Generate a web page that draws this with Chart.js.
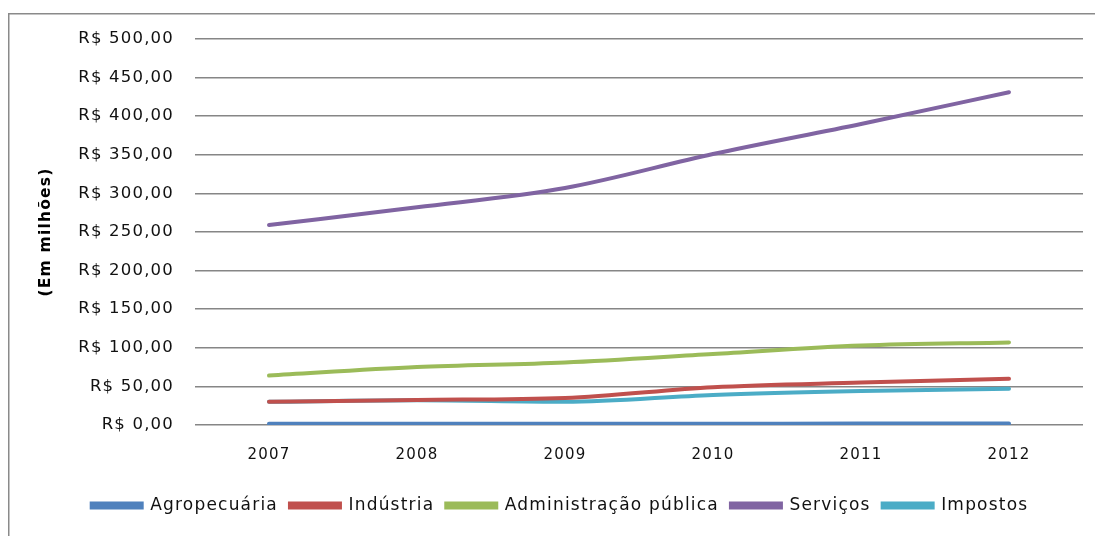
<!DOCTYPE html>
<html>
<head>
<meta charset="utf-8">
<script src="https://cdn.jsdelivr.net/npm/chart.js@4"></script>
<style>
  html, body { margin: 0; padding: 0; background: #fff; overflow: hidden; }
  canvas { position: absolute; left: 0; top: 0; }
</style>
</head>
<body>
<canvas id="c" width="1095" height="536"></canvas>
<script>
const years = ['2007', '2008', '2009', '2010', '2011', '2012'];
const agropecuaria = [1.5, 1.6, 1.5, 1.7, 1.8, 1.9];
const industria = [30, 32.5, 35, 49, 55, 60];
const administracao = [64, 75, 81, 92, 103, 107];
const servicos = [259, 282, 307, 351, 390, 431];
const impostos = [30, 32, 30, 39, 44, 47];
const seriesNames = ['Agropecuária', 'Indústria', 'Administração pública', 'Serviços', 'Impostos'];
const yTicks = [0, 50, 100, 150, 200, 250, 300, 350, 400, 450, 500];

const colors = ['#4F81BD', '#C0504D', '#9BBB59', '#8064A2', '#4BACC6'];
const values = [agropecuaria, industria, administracao, servicos, impostos];

const fontFam = "'DejaVu Sans', sans-serif";

const datasets = seriesNames.map((name, i) => ({
  label: name,
  data: values[i],
  borderColor: colors[i],
  backgroundColor: colors[i],
  borderWidth: 4,
  pointRadius: 0,
  cubicInterpolationMode: 'monotone',
  borderCapStyle: 'round'
}));

function fmt(v) {
  return 'R$ ' + v.toFixed(2).replace('.', ',');
}

const spacingPlugin = {
  id: 'spacing',
  beforeLayout(chart) { chart.ctx.letterSpacing = '1.2px'; },
  beforeDraw(chart) {
    const ctx = chart.ctx;
    ctx.letterSpacing = '1.2px';
    ctx.save();
    ctx.fillStyle = '#fff';
    ctx.fillRect(0, 0, chart.width, chart.height);
    ctx.strokeStyle = '#8a8a8a';
    ctx.lineWidth = 1.5;
    ctx.beginPath();
    ctx.moveTo(8.75, chart.height);
    ctx.lineTo(8.75, 13.75);
    ctx.lineTo(chart.width, 13.75);
    ctx.stroke();
    ctx.restore();
  }
};

new Chart(document.getElementById('c'), {
  type: 'line',
  data: { labels: years, datasets: datasets },
  plugins: [spacingPlugin],
  options: {
    responsive: false,
    animation: false,
    layout: { padding: { left: 37, right: 12, top: 39, bottom: 12 } },
    plugins: {
      legend: {
        position: 'bottom',
        labels: {
          boxWidth: 50,
          boxHeight: 4,
          padding: 12,
          color: '#111',
          font: { family: fontFam, size: 17 }
        }
      },
      tooltip: { enabled: false }
    },
    scales: {
      x: {
        offset: true,
        grid: { display: false, drawTicks: false },
        border: { display: false },
        ticks: { color: '#111', font: { family: fontFam, size: 15 }, padding: 21 },
        afterFit: s => { s.height = 60; }
      },
      y: {
        min: 0,
        max: 500,
        afterBuildTicks: s => { s.ticks = yTicks.map(v => ({ value: v })); },
        grid: { color: '#868686', lineWidth: 1.5, drawTicks: false },
        border: { display: false },
        ticks: {
          color: '#111',
          font: { family: fontFam, size: 16.5 },
          padding: 21,
          callback: v => fmt(v)
        },
        title: {
          display: true,
          text: '(Em milhões)',
          color: '#000',
          font: { family: fontFam, size: 15.5, weight: 'bold' },
          padding: { top: 0, bottom: 4 }
        },
        afterFit: s => { s.width = 158; }
      }
    }
  }
});
</script>
</body>
</html>
